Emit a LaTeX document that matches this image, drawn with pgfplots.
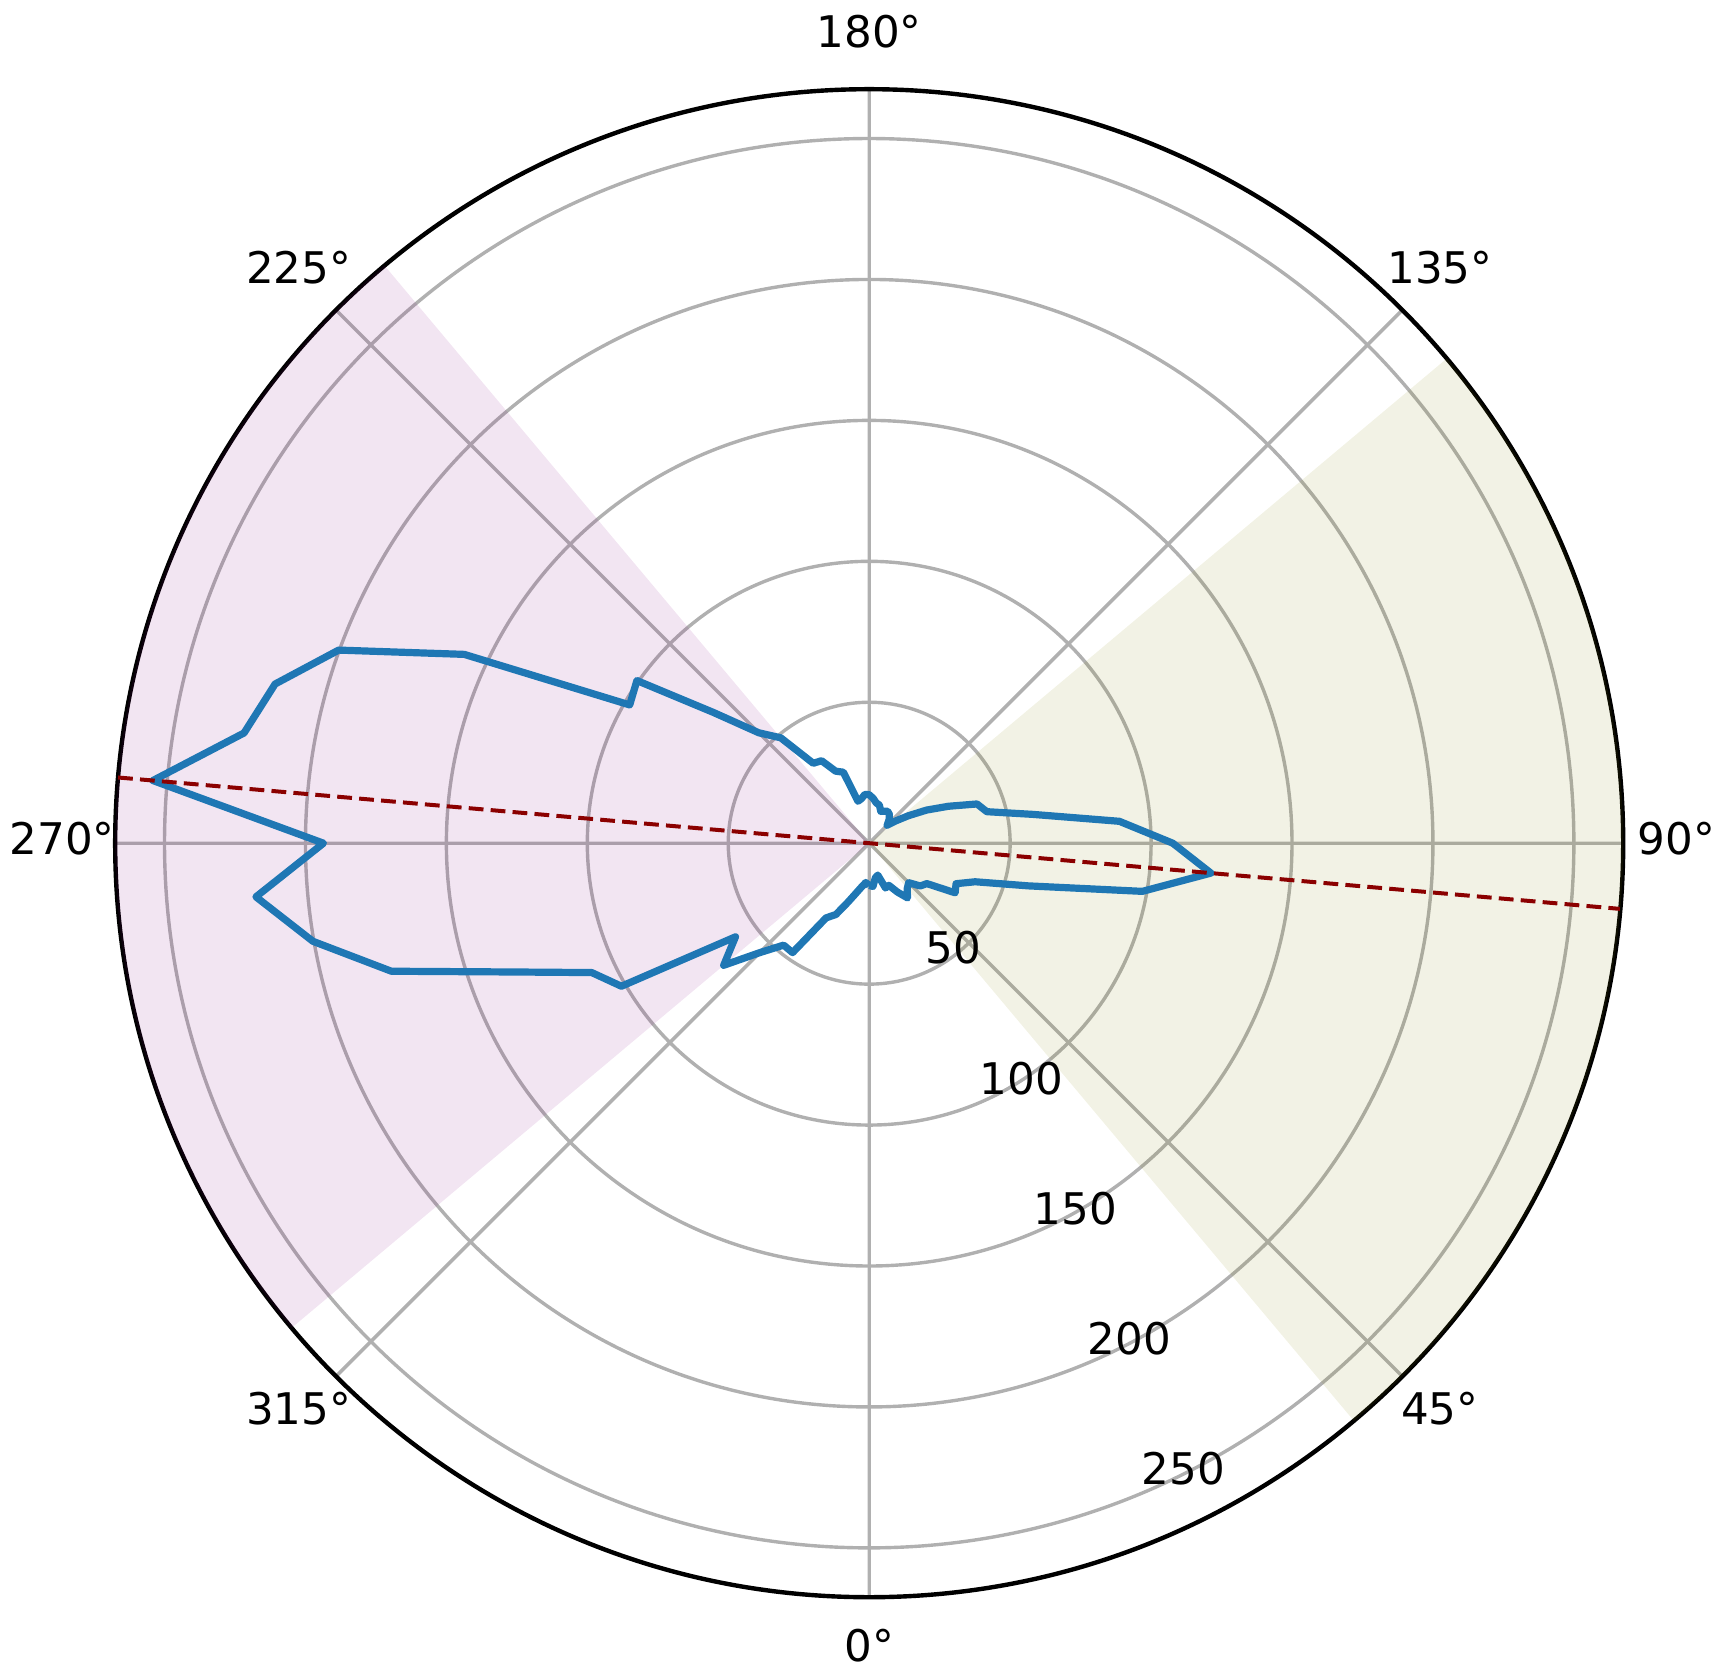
\documentclass[border=0pt]{standalone}
\usepackage{fontspec}
\setmainfont{DejaVu Sans}
\usepackage{pgfplots}
\pgfplotsset{compat=1.18}
\usepgfplotslibrary{polar}
\usepackage{pgfplotstable}
\definecolor{mplblue}{RGB}{31,119,180}
\definecolor{mplpurple}{RGB}{128,0,128}
\definecolor{mplolive}{RGB}{128,128,0}
\definecolor{meanred}{RGB}{139,0,0}
\definecolor{gridgray}{RGB}{176,176,176}

% direction (degrees, 0 at bottom, counterclockwise) and radius
\pgfplotstableread{
theta r
0 15
5 15.4
10 12.5
15 11.7
20 16.9
25 16.5
30 20
35 23.7
40 21
45 19.8
50 23.6
55 25
60 35.2
65 34
70 40
75 58.5
80 98.4
85 121.7
90 107.7
95 89.1
100 58.9
105 43.2
110 40.7
115 31
120 23.5
125 17
130 12.3
135 9
140 11
145 12.5
150 13.1
155 12.5
160 12
165 14
170 14.5
175 16
180 17.2
185 17.4
190 16
195 15.4
200 26.8
205 28.2
210 33.8
215 34.6
220 48.8
225 55.4
230 72.2
235 100.6
240 98.1
245 158.5
250 200.3
255 218.2
260 225.2
265 255.1
270 193.6
275 218.4
280 200.4
285 175.5
290 133.6
295 108.6
300 101.5
305 57.9
310 67.4
315 54.9
320 47.2
325 47.4
330 30.6
335 27.9
340 22.4
345 18.5
350 15.8
355 14
360 15
}\dirdata

\begin{document}
\begin{tikzpicture}
\begin{polaraxis}[
  scale only axis,
  width=377bp, height=377bp,
  xmin=0, xmax=360,
  ymin=0, ymax=267.5,
  xtick={0,45,...,315}, xticklabels={},
  ytick={50,100,150,200,250}, yticklabels={},
  tick style={draw=none},
  grid=major,
  major grid style={draw=gridgray, line width=0.85bp},
  x axis line style={draw=black, line width=1.1bp},
  y axis line style={draw=none},
]
% shaded sectors (220-310 and 40-130 degrees)
\addplot[draw=none, fill=mplpurple, fill opacity=0.1]
  coordinates {(0,0) (130,400) (175,400) (220,400) (0,0)};
\addplot[draw=none, fill=mplolive, fill opacity=0.1]
  coordinates {(0,0) (-50,400) (-5,400) (40,400) (0,0)};

\addplot[mplblue, line width=1.8bp, line join=round]
  table[x expr=\thisrow{theta}-90, y=r] {\dirdata};

% mean direction 265 / 85 degrees
\addplot[meanred, line width=1bp, dash pattern=on 3.7bp off 1.8bp]
  coordinates {(175,267.5) (-5,267.5)};

\coordinate (O) at (axis cs:0,0);
\coordinate (a0) at (axis cs:-90,286.3);
\coordinate (a45) at (axis cs:-45,286.3);
\coordinate (a90) at (axis cs:0,286.3);
\coordinate (a135) at (axis cs:45,286.3);
\coordinate (a180) at (axis cs:90,286.3);
\coordinate (a225) at (axis cs:135,286.3);
\coordinate (a270) at (axis cs:180,286.3);
\coordinate (a315) at (axis cs:225,286.3);
\coordinate (r50) at (axis cs:-67.5,50);
\coordinate (r100) at (axis cs:-67.5,100);
\coordinate (r150) at (axis cs:-67.5,150);
\coordinate (r200) at (axis cs:-67.5,200);
\coordinate (r250) at (axis cs:-67.5,250);
\end{polaraxis}

\begin{scope}[every node/.style={font=\fontsize{10.9bp}{13bp}\selectfont, inner sep=0pt}]
\node[yshift=1.25bp] at (a0) {0°};
\node[yshift=1.25bp] at (a45) {45°};
\node[yshift=1.25bp] at (a90) {90°};
\node[yshift=1.25bp] at (a135) {135°};
\node[yshift=1.25bp] at (a180) {180°};
\node[yshift=1.25bp] at (a225) {225°};
\node[yshift=1.25bp] at (a270) {270°};
\node[yshift=1.25bp] at (a315) {315°};
\node[anchor=base west, xshift=0.5bp, yshift=2.4bp] at (r50) {50};
\node[anchor=base west, xshift=0.5bp, yshift=2.4bp] at (r100) {100};
\node[anchor=base west, xshift=0.5bp, yshift=2.4bp] at (r150) {150};
\node[anchor=base west, xshift=0.5bp, yshift=2.4bp] at (r200) {200};
\node[anchor=base west, xshift=0.5bp, yshift=2.4bp] at (r250) {250};
\end{scope}

\pgfresetboundingbox
\path[use as bounding box] (O) ++(-217.3bp,-208.7bp) rectangle ++(429.75bp,419.5bp);
\end{tikzpicture}
\end{document}
